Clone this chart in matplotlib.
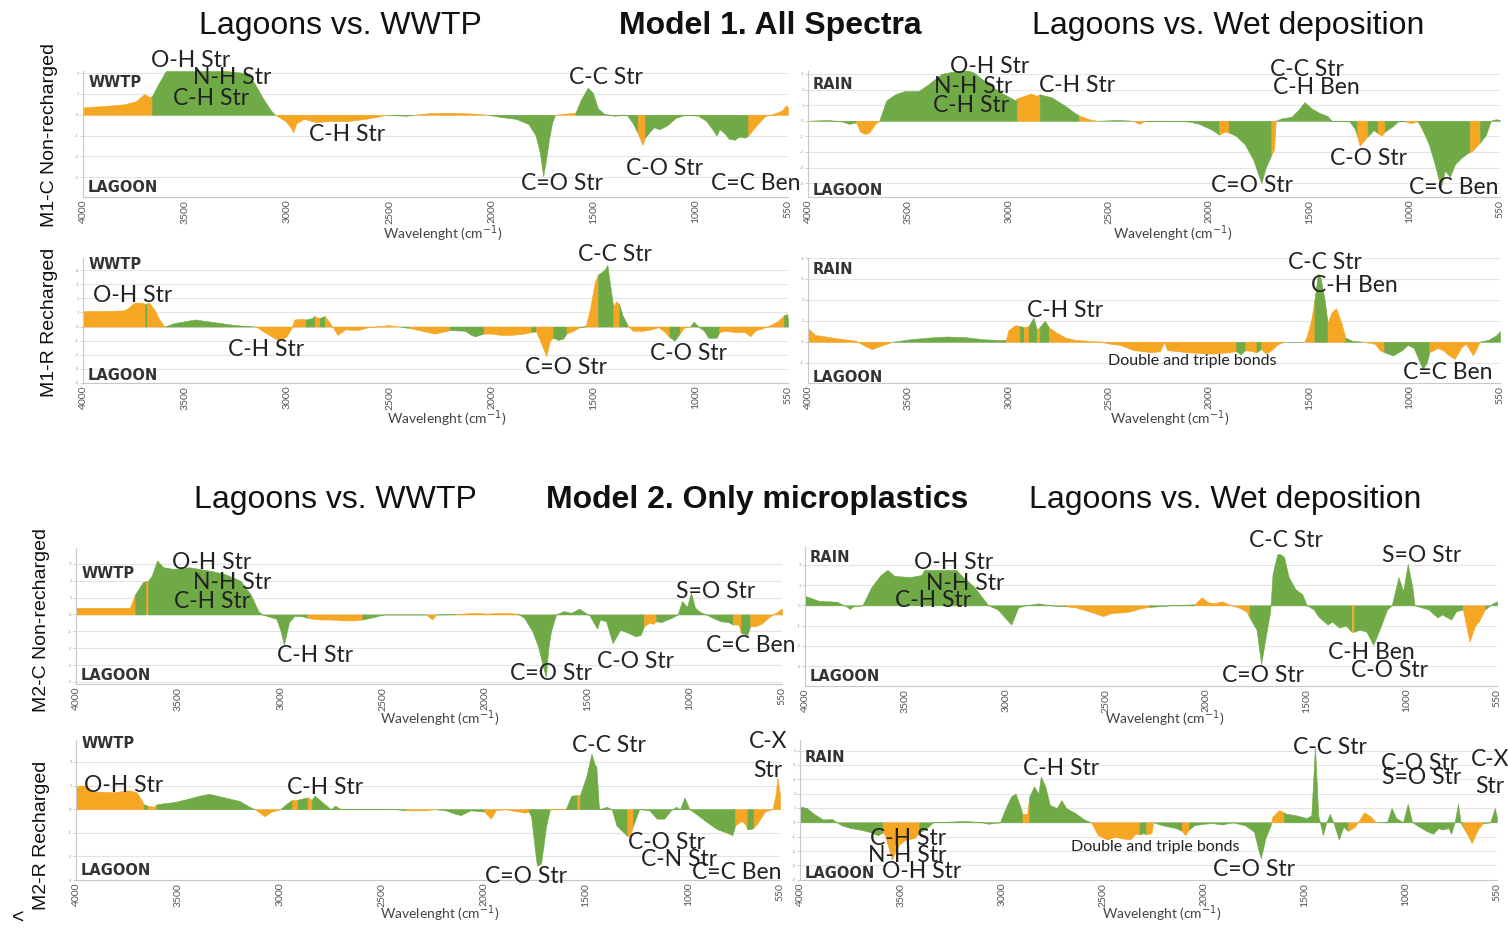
import math
import matplotlib
matplotlib.use("Agg")
import matplotlib.pyplot as plt
import numpy as np

# spectral loadings: (wavenumber, value, flag) -- flag 1 = orange band, 0 = green band
A_pts = [
    (4000, 0.35, 1), (3900, 0.42, 1), (3800, 0.5, 1), (3740, 0.65, 1), (3700, 1.0, 1),
    (3675, 0.85, 1), (3662, 0.9, 0), (3630, 1.5, 0), (3595, 2.1, 0), (3450, 2.1, 0),
    (3300, 2.1, 0), (3200, 2.0, 0), (3160, 1.5, 0), (3120, 0.8, 0), (3080, 0.2, 0),
    (3060, 0.0, 1), (3010, -0.3, 1), (2985, -0.6, 1), (2972, -0.85, 1), (2955, -0.4, 1),
    (2920, -0.2, 1), (2860, -0.35, 1), (2780, -0.3, 1), (2700, -0.3, 1), (2620, -0.2, 1),
    (2560, -0.1, 1), (2520, 0.0, 0), (2420, -0.05, 0), (2380, 0.0, 1), (2300, 0.08, 1),
    (2200, 0.1, 1), (2100, 0.06, 1), (2020, 0.0, 0), (1960, -0.1, 0), (1880, -0.2, 0),
    (1820, -0.45, 0), (1785, -1.0, 0), (1765, -1.8, 0), (1748, -2.95, 0), (1735, -2.2, 0),
    (1720, -1.2, 0), (1705, -0.4, 0), (1690, 0.0, 1), (1640, 0.05, 1), (1590, 0.1, 0),
    (1565, 0.7, 0), (1530, 1.3, 0), (1505, 1.05, 0), (1480, 0.3, 0), (1450, 0.05, 0),
    (1400, -0.05, 0), (1340, 0.0, 0), (1310, -0.4, 0), (1285, -0.9, 1), (1262, -1.45, 1),
    (1250, -1.1, 0), (1225, -0.8, 0), (1205, -0.6, 0), (1180, -0.7, 0), (1140, -0.5, 0),
    (1100, -0.15, 0), (1050, 0.0, 0), (990, -0.05, 0), (950, -0.3, 0), (920, -0.7, 0),
    (900, -1.0, 0), (885, -0.7, 0), (860, -0.9, 0), (840, -1.15, 0), (810, -1.2, 0),
    (790, -1.05, 0), (760, -1.1, 0), (745, -1.0, 1), (720, -0.7, 1), (690, -0.35, 1),
    (660, -0.05, 1), (620, 0.05, 1), (580, 0.2, 1), (560, 0.45, 1), (550, 0.35, 1),
]

B_pts = [
    (4000, 0.0, 0), (3900, 0.05, 0), (3830, -0.05, 0), (3794, -0.2, 0), (3760, -0.1, 1),
    (3740, -0.7, 1), (3715, -0.85, 1), (3695, -0.75, 1), (3665, -0.2, 1), (3645, 0.0, 0),
    (3610, 1.3, 0), (3565, 1.7, 0), (3520, 1.9, 0), (3450, 1.9, 0), (3404, 2.3, 0),
    (3335, 3.0, 0), (3260, 3.2, 0), (3220, 3.3, 0), (3175, 3.1, 0), (3106, 2.4, 0),
    (3037, 1.8, 0), (2965, 1.3, 0), (2957, 1.45, 1), (2920, 1.6, 1), (2890, 1.75, 1),
    (2860, 1.6, 1), (2845, 1.7, 0), (2785, 1.5, 0), (2717, 0.95, 0), (2670, 0.5, 0),
    (2650, 0.35, 1), (2600, 0.1, 1), (2556, 0.0, 0), (2450, 0.05, 0), (2380, 0.0, 1),
    (2350, -0.2, 1), (2320, 0.0, 0), (2200, 0.0, 0), (2100, -0.05, 0), (2050, -0.2, 0),
    (1983, -0.6, 0), (1950, -0.9, 1), (1925, -0.7, 1), (1903, -0.75, 0), (1868, -0.95, 0),
    (1823, -1.5, 0), (1780, -2.5, 0), (1740, -4.0, 0), (1718, -3.0, 0), (1690, -2.2, 1),
    (1676, -1.8, 1), (1668, 0.0, 0), (1640, 0.15, 0), (1590, 0.25, 0), (1555, 0.7, 0),
    (1525, 1.2, 0), (1490, 0.8, 0), (1450, 0.5, 0), (1410, 0.3, 0), (1390, 0.0, 0),
    (1300, -0.05, 0), (1275, -0.5, 0), (1262, -1.0, 1), (1250, -1.6, 1), (1230, -1.3, 1),
    (1210, -1.0, 0), (1180, -0.6, 0), (1160, -0.8, 1), (1140, -0.95, 1), (1125, -0.7, 0),
    (1090, -0.4, 0), (1055, 0.0, 0), (1020, -0.05, 1), (995, -0.15, 1), (960, -0.05, 0),
    (940, -0.5, 0), (905, -1.5, 0), (875, -2.8, 0), (845, -4.3, 0), (825, -3.2, 0),
    (800, -3.6, 0), (775, -2.8, 0), (745, -2.4, 0), (715, -2.1, 0), (700, -2.0, 1),
    (685, -1.9, 1), (665, -1.6, 1), (650, -1.4, 0), (620, -0.9, 0), (596, 0.0, 0),
    (570, 0.1, 0), (550, 0.05, 0),
]

C_pts = [
    (4000, 1.1, 1), (3900, 1.1, 1), (3800, 1.15, 1), (3776, 1.35, 1), (3751, 1.7, 1),
    (3714, 1.7, 1), (3695, 1.6, 0), (3688, 1.65, 1), (3676, 1.7, 1), (3651, 1.2, 1),
    (3626, 0.5, 1), (3601, 0.0, 0), (3552, 0.25, 0), (3452, 0.5, 0), (3352, 0.3, 0),
    (3253, 0.1, 0), (3153, 0.0, 1), (3128, -0.25, 1), (3078, -0.7, 1), (3041, -1.0, 1),
    (3004, -0.7, 1), (2979, -0.1, 1), (2966, 0.5, 1), (2929, 0.55, 1), (2910, 0.5, 0),
    (2880, 0.6, 0), (2867, 0.75, 1), (2842, 0.6, 0), (2817, 0.75, 1), (2792, 0.25, 1),
    (2779, 0.0, 1), (2755, -0.6, 1), (2717, -0.2, 1), (2655, -0.25, 1), (2605, -0.05, 1),
    (2505, 0.1, 1), (2450, 0.0, 0), (2406, -0.1, 1), (2356, -0.25, 1), (2281, -0.5, 1),
    (2231, -0.35, 1), (2206, -0.25, 0), (2132, -0.3, 0), (2100, -0.6, 0), (2082, -0.7, 0),
    (2040, -0.5, 1), (2007, -0.5, 1), (1950, -0.6, 1), (1908, -0.6, 1), (1840, -0.5, 1),
    (1808, -0.4, 0), (1783, -0.35, 1), (1758, -1.2, 1), (1733, -2.1, 1), (1715, -1.0, 1),
    (1700, -0.8, 0), (1675, -0.95, 0), (1650, -0.85, 0), (1634, -0.5, 1), (1600, -0.3, 1),
    (1570, -0.05, 0), (1540, 0.05, 1), (1520, 1.2, 1), (1495, 3.2, 1), (1480, 3.7, 0),
    (1460, 3.9, 0), (1445, 4.1, 0), (1434, 4.4, 0), (1418, 2.7, 0), (1405, 1.4, 1),
    (1392, 1.8, 1), (1376, 1.6, 0), (1360, 0.8, 0), (1335, 0.1, 1), (1310, -0.3, 1),
    (1260, -0.3, 1), (1220, -0.2, 1), (1185, -0.05, 1), (1160, -0.3, 1), (1130, -0.75, 0),
    (1105, -1.0, 0), (1080, -0.5, 1), (1061, -0.1, 1), (1030, 0.0, 0), (1011, 0.35, 0),
    (990, 0.0, 0), (961, -0.3, 0), (940, -0.8, 0), (900, -0.8, 0), (886, -0.4, 1),
    (860, -0.3, 1), (836, -0.35, 1), (790, -0.4, 1), (760, -0.4, 1), (735, -0.7, 1),
    (712, -0.3, 1), (670, -0.1, 1), (637, 0.1, 1), (600, 0.4, 1), (570, 0.8, 0),
    (555, 0.9, 0), (550, 0.5, 0),
]

D_pts = [
    (4000, 0.65, 1), (3966, 0.33, 1), (3852, 0.16, 1), (3762, 0.05, 1), (3716, -0.2, 1),
    (3682, -0.35, 1), (3625, -0.15, 1), (3580, 0.0, 0), (3489, 0.12, 0), (3398, 0.2, 0),
    (3308, 0.25, 0), (3217, 0.22, 0), (3126, 0.12, 0), (3035, 0.08, 0), (3013, 0.1, 1),
    (3001, 0.55, 1), (2967, 0.8, 1), (2944, 0.75, 0), (2925, 0.7, 1), (2900, 0.75, 0),
    (2876, 1.15, 0), (2860, 0.6, 1), (2845, 0.7, 0), (2820, 1.0, 0), (2800, 0.7, 1),
    (2763, 0.45, 1), (2717, 0.2, 1), (2672, 0.1, 1), (2604, 0.05, 1), (2540, 0.0, 1),
    (2490, -0.1, 1), (2445, -0.15, 1), (2377, -0.4, 1), (2286, -0.5, 1), (2245, -0.45, 1),
    (2225, 0.0, 1), (2210, -0.4, 1), (2105, -0.5, 1), (1991, -0.57, 1), (1900, -0.5, 1),
    (1866, -0.45, 0), (1843, -0.6, 0), (1820, -0.4, 1), (1790, -0.45, 1), (1764, -0.5, 0),
    (1741, -0.35, 1), (1719, -0.55, 1), (1696, -0.45, 1), (1662, -0.15, 1), (1628, 0.0, 0),
    (1526, 0.0, 1), (1514, 0.25, 1), (1490, 1.1, 1), (1475, 2.0, 0), (1458, 3.25, 0),
    (1446, 3.1, 0), (1424, 2.0, 0), (1410, 0.9, 1), (1390, 1.4, 1), (1367, 1.6, 1),
    (1341, 0.9, 1), (1321, 0.2, 0), (1287, 0.05, 0), (1230, 0.0, 1), (1174, -0.1, 1),
    (1150, -0.4, 1), (1128, -0.5, 0), (1083, -0.65, 0), (1038, -0.4, 0), (1010, -0.15, 0),
    (980, -0.3, 0), (958, -0.8, 0), (936, -1.3, 0), (915, -1.0, 0), (902, -0.5, 1),
    (860, -0.3, 1), (835, -0.4, 1), (811, -0.6, 1), (777, -0.82, 1), (742, -0.25, 1),
    (720, -0.1, 1), (700, -0.4, 1), (686, -0.65, 1), (665, -0.3, 1), (652, 0.0, 0),
    (606, 0.1, 0), (570, 0.3, 0), (550, 0.5, 0),
]

E_pts = [
    (4000, 0.4, 1), (3850, 0.4, 1), (3737, 0.4, 1), (3711, 1.2, 0), (3674, 1.9, 0),
    (3656, 2.0, 1), (3648, 2.0, 0), (3630, 2.3, 0), (3604, 3.2, 0), (3573, 2.8, 0),
    (3523, 2.7, 0), (3448, 2.8, 0), (3348, 2.6, 0), (3272, 2.4, 0), (3197, 2.0, 0),
    (3147, 1.2, 0), (3109, 0.2, 0), (3090, 0.0, 0), (3021, -0.25, 0), (3000, -1.0, 0),
    (2984, -1.8, 0), (2959, -0.45, 0), (2934, -0.1, 0), (2896, -0.1, 0), (2870, -0.2, 1),
    (2846, -0.25, 1), (2800, -0.3, 1), (2746, -0.3, 1), (2700, -0.35, 1), (2645, -0.35, 1),
    (2600, -0.3, 0), (2545, -0.15, 0), (2495, 0.0, 0), (2290, 0.0, 1), (2260, -0.3, 1),
    (2240, 0.0, 0), (2143, 0.02, 1), (2050, 0.1, 1), (1993, 0.05, 1), (1920, 0.1, 1),
    (1842, 0.05, 0), (1810, -0.2, 0), (1770, -1.0, 0), (1742, -1.9, 0), (1718, -3.1, 0),
    (1704, -3.7, 0), (1692, -2.0, 0), (1679, -1.0, 0), (1654, 0.0, 0), (1617, 0.2, 0),
    (1580, 0.1, 0), (1541, 0.35, 0), (1510, 0.1, 0), (1491, -0.05, 0), (1453, -0.85, 0),
    (1440, -0.3, 0), (1410, -0.4, 0), (1378, -1.7, 0), (1340, -0.9, 0), (1300, -1.1, 0),
    (1265, -1.3, 0), (1240, -1.2, 0), (1225, -0.7, 1), (1200, -0.5, 1), (1180, -0.55, 1),
    (1165, -0.4, 0), (1140, -0.45, 0), (1090, -0.2, 0), (1060, 0.0, 0), (1039, 0.8, 0),
    (1014, 0.45, 0), (995, 1.3, 0), (975, 0.4, 0), (950, 0.15, 0), (920, 0.0, 0),
    (889, -0.2, 0), (850, -0.4, 0), (814, -0.45, 0), (790, -0.6, 1), (763, -0.6, 1),
    (750, -1.1, 0), (720, -1.2, 0), (705, -0.7, 1), (680, -0.7, 1), (650, -0.55, 1),
    (613, -0.15, 1), (580, 0.1, 1), (550, 0.35, 1),
]

F_pts = [
    (4000, 0.47, 0), (3931, 0.22, 0), (3840, 0.18, 0), (3817, 0.05, 0), (3794, -0.05, 0),
    (3776, -0.18, 0), (3760, -0.05, 0), (3714, 0.0, 0), (3669, 0.9, 0), (3623, 1.5, 0),
    (3589, 1.75, 0), (3554, 1.45, 0), (3474, 1.4, 0), (3420, 1.5, 0), (3406, 1.75, 0),
    (3246, 1.75, 0), (3212, 1.4, 0), (3155, 0.9, 0), (3109, 0.3, 0), (3086, 0.0, 0),
    (3040, -0.2, 0), (2972, -0.95, 0), (2937, -0.1, 0), (2900, 0.0, 0), (2835, 0.1, 0),
    (2780, 0.0, 0), (2698, -0.05, 1), (2652, -0.1, 1), (2560, -0.37, 1), (2515, -0.53, 1),
    (2469, -0.37, 1), (2420, -0.35, 1), (2378, -0.3, 1), (2330, -0.15, 1), (2286, -0.08, 0),
    (2150, 0.02, 0), (2058, 0.05, 1), (2023, 0.4, 1), (1989, 0.15, 1), (1960, 0.1, 1),
    (1921, 0.2, 1), (1875, 0.0, 1), (1840, -0.1, 1), (1800, -0.3, 1), (1784, -0.6, 0),
    (1749, -1.2, 0), (1726, -2.9, 0), (1704, -1.6, 0), (1681, -0.3, 0), (1669, 1.55, 0),
    (1646, 2.5, 0), (1635, 2.55, 0), (1612, 2.4, 0), (1589, 1.4, 0), (1555, 0.8, 0),
    (1521, 0.55, 0), (1498, 0.0, 0), (1464, -0.2, 0), (1441, -0.55, 0), (1395, -0.95, 0),
    (1372, -0.8, 0), (1338, -1.1, 0), (1304, -1.0, 0), (1275, -1.3, 1), (1262, -1.3, 0),
    (1235, -1.2, 0), (1201, -1.3, 0), (1167, -1.95, 0), (1132, -1.1, 0), (1098, -0.2, 0),
    (1075, 0.0, 0), (1041, 1.4, 0), (1018, 0.7, 0), (995, 2.05, 0), (972, 0.9, 0),
    (961, 0.0, 0), (892, -0.2, 0), (847, -0.6, 0), (824, -0.45, 0), (778, -0.7, 0),
    (755, -0.3, 0), (720, -0.2, 1), (687, -1.8, 1), (660, -1.0, 1), (641, -0.8, 1),
    (610, -0.2, 0), (570, 0.1, 0), (550, 0.2, 0),
]

G_pts = [
    (4000, 0.93, 1), (3988, 1.0, 1), (3951, 1.0, 1), (3914, 0.75, 1), (3815, 0.72, 1),
    (3741, 0.8, 1), (3704, 0.72, 1), (3687, 0.5, 1), (3667, 0.2, 0), (3650, 0.15, 1),
    (3620, 0.1, 1), (3606, 0.2, 0), (3569, 0.25, 0), (3520, 0.3, 0), (3470, 0.4, 0),
    (3396, 0.57, 0), (3347, 0.65, 0), (3273, 0.5, 0), (3199, 0.35, 0), (3150, 0.1, 0),
    (3125, 0.0, 1), (3076, -0.3, 1), (3040, -0.1, 1), (3000, 0.0, 0), (2965, 0.25, 0),
    (2940, 0.4, 1), (2915, 0.4, 0), (2891, 0.45, 0), (2865, 0.5, 1), (2845, 0.4, 0),
    (2830, 0.57, 0), (2780, 0.2, 0), (2750, 0.0, 0), (2731, 0.15, 0), (2700, 0.0, 0),
    (2632, 0.0, 0), (2450, 0.02, 0), (2386, -0.05, 1), (2288, -0.05, 1), (2240, 0.0, 0),
    (2189, -0.05, 0), (2140, -0.2, 0), (2115, -0.25, 0), (2066, -0.05, 0), (2000, -0.1, 1),
    (1967, -0.4, 1), (1943, -0.05, 1), (1900, 0.0, 1), (1832, -0.1, 1), (1800, -0.15, 1),
    (1782, -0.1, 0), (1770, -0.3, 0), (1750, -1.8, 0), (1741, -2.4, 0), (1721, -2.3, 0),
    (1696, -0.7, 0), (1680, -0.1, 1), (1672, 0.0, 1), (1600, 0.0, 0), (1573, 0.57, 0),
    (1545, 0.6, 1), (1530, 0.6, 0), (1499, 1.4, 0), (1474, 2.35, 0), (1458, 1.9, 0),
    (1450, 1.8, 0), (1437, 0.0, 0), (1400, 0.1, 0), (1375, 0.0, 0), (1351, -0.7, 0),
    (1314, -1.0, 0), (1298, -1.15, 1), (1285, -1.1, 1), (1270, -0.7, 0), (1240, 0.0, 0),
    (1190, -0.05, 0), (1154, -0.4, 0), (1117, -0.4, 0), (1085, -0.05, 0), (1060, 0.1, 0),
    (1040, 0.0, 0), (1018, 0.5, 0), (994, 0.0, 0), (969, -0.15, 0), (908, -0.55, 0),
    (858, -0.85, 0), (809, -1.0, 0), (784, -1.1, 0), (770, -0.7, 1), (740, -0.5, 1),
    (723, -0.6, 1), (710, -0.85, 0), (698, -0.85, 0), (680, -0.8, 1), (661, -0.6, 1),
    (624, -0.1, 1), (587, 0.0, 1), (570, 0.7, 1), (563, 1.35, 1), (555, 0.9, 1),
    (550, 0.6, 1),
]

H_pts = [
    (4000, 1.1, 0), (3966, 1.0, 0), (3932, 0.6, 0), (3887, 0.2, 0), (3841, 0.23, 0),
    (3818, 0.0, 0), (3796, -0.2, 0), (3750, -0.4, 0), (3705, -0.5, 0), (3660, -0.65, 0),
    (3614, -0.9, 0), (3591, -0.7, 1), (3580, -0.9, 1), (3557, -2.0, 1), (3546, -2.6, 1),
    (3512, -1.6, 1), (3478, -1.2, 1), (3433, -1.1, 1), (3410, -0.7, 0), (3380, -0.5, 0),
    (3342, 0.0, 0), (3183, 0.1, 0), (3100, 0.0, 0), (3069, -0.1, 0), (3010, 0.0, 0),
    (2990, 0.75, 0), (2956, 1.8, 0), (2933, 2.0, 0), (2910, 1.1, 0), (2899, 0.6, 1),
    (2876, 0.6, 1), (2865, 1.8, 0), (2842, 2.5, 0), (2820, 2.0, 0), (2808, 3.2, 0),
    (2786, 2.5, 0), (2763, 1.2, 0), (2729, 1.0, 0), (2706, 1.55, 0), (2683, 1.0, 0),
    (2638, 0.65, 0), (2593, 0.2, 0), (2560, 0.0, 1), (2525, -0.9, 1), (2479, -1.2, 1),
    (2440, -1.0, 1), (2411, -1.1, 1), (2366, -1.2, 1), (2340, -0.8, 1), (2320, -0.85, 0),
    (2300, -0.75, 0), (2286, -0.85, 1), (2260, -0.75, 1), (2252, 0.0, 0), (2207, -0.2, 0),
    (2139, -0.4, 0), (2110, -0.6, 1), (2093, -0.9, 1), (2075, -0.5, 0), (2048, -0.2, 0),
    (2002, -0.1, 0), (1960, -0.05, 0), (1912, -0.15, 0), (1860, 0.0, 0), (1798, -0.2, 0),
    (1753, -0.65, 0), (1730, -2.0, 0), (1719, -2.5, 0), (1696, -1.1, 0), (1670, -0.2, 1),
    (1662, 0.4, 1), (1628, 0.85, 1), (1605, 0.7, 0), (1594, 0.6, 0), (1548, 0.5, 0),
    (1492, 0.3, 0), (1469, 0.5, 0), (1451, 5.3, 0), (1435, 0.5, 0), (1412, -0.9, 0),
    (1395, 0.0, 0), (1378, 0.6, 0), (1360, 0.0, 0), (1333, -1.2, 0), (1310, -0.3, 0),
    (1287, -0.6, 1), (1253, -0.3, 1), (1230, 0.2, 1), (1208, 0.7, 1), (1174, 0.4, 1),
    (1151, 0.0, 0), (1094, 0.05, 0), (1072, 1.0, 0), (1049, 0.3, 0), (1015, 0.0, 0),
    (992, 1.3, 0), (970, 0.0, 0), (936, -0.3, 0), (900, -0.6, 0), (867, -0.8, 0),
    (840, -0.4, 0), (822, -0.5, 0), (790, -0.4, 0), (777, -0.8, 0), (760, 0.0, 0),
    (743, 1.3, 0), (730, 0.0, 0), (720, -0.3, 1), (695, -0.9, 1), (675, -1.45, 1),
    (655, -0.8, 1), (640, -0.4, 1), (618, -0.05, 0), (584, 0.0, 0), (561, 1.0, 0),
    (550, 0.3, 0),
]

# band assignments written on each panel
A_notes = ["O-H Str", "N-H Str", "C-H Str", "C-H Str", "C-C Str", "C=O Str", "C-O Str", "C=C Ben"]
B_notes = ["O-H Str", "N-H Str", "C-H Str", "C-H Str", "C-C Str", "C-H Ben", "C=O Str", "C-O Str", "C=C Ben"]
C_notes = ["O-H Str", "C-H Str", "C-C Str", "C=O Str", "C-O Str"]
D_notes = ["C-H Str", "C-C Str", "C-H Ben", "C=C Ben", "Double and triple bonds"]
E_notes = ["O-H Str", "N-H Str", "C-H Str", "C-H Str", "C=O Str", "C-O Str", "S=O Str", "C=C Ben"]
F_notes = ["O-H Str", "N-H Str", "C-H Str", "C-C Str", "S=O Str", "C=O Str", "C-H Ben", "C-O Str"]
G_notes = ["O-H Str", "C-H Str", "C-C Str", "C-X", "Str", "C=O Str", "C-O Str", "C-N Str", "C=C Ben"]
H_notes = ["C-H Str", "C-C Str", "C-O Str", "S=O Str", "C-X", "Str", "C-H Str", "N-H Str", "O-H Str",
           "C=O Str", "Double and triple bonds"]

row_names = ["M1-C Non-recharged", "M1-R Recharged", "M2-C Non-recharged", "M2-R Recharged"]
titles = ["Lagoons vs. WWTP", "Model 1. All Spectra", "Lagoons vs. Wet deposition",
          "Lagoons vs. WWTP", "Model 2. Only microplastics", "Lagoons vs. Wet deposition"]
x_ticks = [4000, 3500, 3000, 2500, 2000, 1500, 1000, 550]

W, H = 1508, 932
ORANGE = "#F5A623"
GREEN = "#70AA46"
LABEL_FONT = ["Lato", "DejaVu Sans"]

# where each panel sits (pixels: left, top, right, bottom), its y range and note positions
panels = [
    (A_pts, A_notes, (83, 71, 788, 197), (-3.95, 2.1), "WWTP", (1.53, -3.5),
     [(3473, 2.6), (3272, 1.77), (3373, 0.8), (2708, -0.97), (1441, 1.77), (1654, -3.3), (1152, -2.58), (706, -3.3)],
     (443, 234)),
    (B_pts, B_notes, (808, 71, 1500, 197), (-4.89, 3.19), "RAIN", (2.34, -4.47),
     [(3095, 3.5), (3175, 2.2), (3186, 1.0), (2659, 2.28), (1513, 3.3), (1467, 2.1), (1788, -4.15), (1204, -2.4), (780, -4.25)],
     (1173, 234)),
    (C_pts, C_notes, (83, 258, 788, 383), (-4.02, 4.88), "WWTP", (4.4, -3.5),
     [(3756, 2.2), (3103, -1.6), (1397, 5.1), (1634, -2.9), (1036, -1.95)],
     (447, 419)),
    (D_pts, D_notes, (808, 258, 1500, 383), (-1.97, 4.0), "RAIN", (3.45, -1.69),
     [(2717, 1.48), (1424, 3.77), (1276, 2.7), (811, -1.48), (2082, -0.93)],
     (1170, 419)),
    (E_pts, E_notes, (76, 548, 782, 684), (-4.12, 3.94), "WWTP", (2.4, -3.6),
     [(3335, 3.1), (3235, 1.9), (3335, 0.78), (2833, -2.45), (1679, -3.47), (1265, -2.8), (876, 1.39), (703, -1.85)],
     (440, 719)),
    (F_pts, F_notes, (805, 547, 1497, 686), (-3.98, 2.88), "RAIN", (2.38, -3.53),
     [(3257, 2.13), (3200, 1.08), (3360, 0.25), (1601, 3.2), (927, 2.47), (1715, -3.45), (1178, -2.32), (1087, -3.2)],
     (1165, 719)),
    (G_pts, G_notes, (76, 740, 780, 880), (-3.0, 2.93), "WWTP", (2.8, -2.6),
     [(3766, 1.0), (2780, 0.93), (1388, 2.7), (610, 2.86), (610, 1.64), (1795, -2.86), (1105, -1.43), (1043, -2.14), (760, -2.7)],
     (440, 914)),
    (H_pts, H_notes, (800, 740, 1497, 880), (-4.02, 5.74), "RAIN", (4.5, -3.55),
     [(2706, 3.77), (1378, 5.2), (935, 4.1), (924, 3.1), (585, 4.35), (585, 2.5), (3467, -1.1), (3467, -2.3), (3398, -3.44), (1753, -3.3), (2241, -1.7)],
     (1162, 914)),
]


def fill_bands(ax, pts):
    wn = np.array([p[0] for p in pts], float)
    val = np.array([p[1] for p in pts], float)
    flag = [p[2] for p in pts]
    n = len(pts)
    start = 0
    for i in range(1, n + 1):
        if i == n or flag[i] != flag[start]:
            end = min(i, n - 1)
            c = ORANGE if flag[start] else GREEN
            ax.fill_between(wn[start:end + 1], 0, val[start:end + 1], color=c, lw=0.4, ec=c)
            start = i


fig = plt.figure(figsize=(W / 100, H / 100), dpi=100)

for pts, notes, box, ylim, tag, tag_y, note_xy, xlab_xy in panels:
    l, t, r, b = box
    ax = fig.add_axes([l / W, 1 - b / H, (r - l) / W, (b - t) / H])
    fill_bands(ax, pts)
    ax.set_xlim(4000, 550)
    ax.set_ylim(*ylim)
    ax.set_xticks(x_ticks)
    ax.set_xticklabels([str(v) for v in x_ticks], rotation=90, fontsize=7.5,
                       color="#555555", family=LABEL_FONT)
    ax.tick_params(axis="x", length=0, pad=2)
    yt = list(range(math.ceil(ylim[0]), math.floor(ylim[1]) + 1))
    ax.set_yticks(yt)
    ax.set_yticklabels([str(v) for v in yt], fontsize=3, color="#999999")
    ax.tick_params(axis="y", length=2, width=0.5, color="#bbbbbb", pad=1)
    ax.grid(axis="y", color="#e4e4e4", lw=0.8)
    ax.set_axisbelow(True)
    for s in ("top", "right"):
        ax.spines[s].set_visible(False)
    for s in ("left", "bottom"):
        ax.spines[s].set_color("#c8c8c8")
        ax.spines[s].set_linewidth(0.8)

    ax.text(3975, tag_y[0], tag, fontsize=10.5, fontweight="bold", color="#333333",
            family="DejaVu Sans", ha="left", va="center")
    ax.text(3975, tag_y[1], "LAGOON", fontsize=10.5, fontweight="bold", color="#333333",
            family="DejaVu Sans", ha="left", va="center")

    for txt, (x, y) in zip(notes, note_xy):
        size = 11.5 if txt.startswith("Double") else 16.5
        ax.text(x, y, txt, fontsize=size, color="#222222", family=LABEL_FONT,
                ha="center", va="center")

    fig.text(xlab_xy[0] / W, 1 - xlab_xy[1] / H, r"Wavelenght (cm$^{-1}$)", fontsize=10,
             color="#444444", family=LABEL_FONT, ha="center", va="center")

# row labels on the left
for name, (x, y) in zip(row_names, [(50, 135), (50, 322), (42, 620), (42, 835)]):
    fig.text(x / W, 1 - y / H, name, rotation=90, fontsize=14, family="Liberation Sans",
             ha="center", va="center", color="#111111")

# block titles
title_xy = [(340, 26), (770, 26), (1228, 26), (335, 500), (757, 500), (1225, 500)]
for i, (txt, (x, y)) in enumerate(zip(titles, title_xy)):
    fig.text(x / W, 1 - y / H, txt, fontsize=23, family="Liberation Sans",
             fontweight="bold" if i % 3 == 1 else "normal",
             ha="center", va="center", color="#111111")

fig.text(18 / W, 1 - 918 / H, "<", fontsize=15, family="Liberation Sans",
         ha="center", va="center", color="#111111")

fig.savefig("out.png", dpi=100, facecolor="white")
